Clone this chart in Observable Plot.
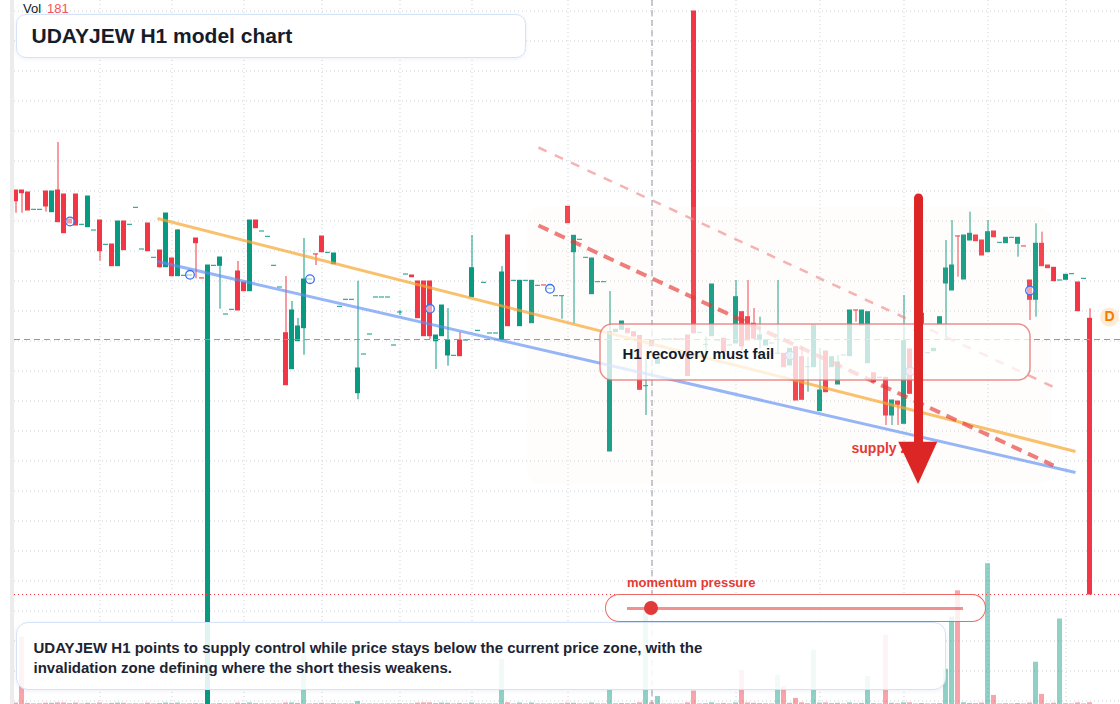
<!DOCTYPE html>
<html><head><meta charset="utf-8">
<script src="https://cdn.jsdelivr.net/npm/d3@7"></script>
<script src="https://cdn.jsdelivr.net/npm/@observablehq/plot@0.6"></script>
<style>
html,body{margin:0;padding:0;background:#fff;}
#wrap{position:relative;width:1120px;height:704px;overflow:hidden;background:#fff;font-family:"Liberation Sans",Arial,sans-serif;}
#strip{position:absolute;left:10px;top:0;width:4px;height:704px;background:#ececec;}
#chart{position:absolute;left:14px;top:0;width:1106px;height:704px;}
#vol{position:absolute;left:23px;top:1px;font-size:13px;color:#131722;line-height:16px;}
#vol span{color:#f7525f;margin-left:6px;}
.card{position:absolute;box-sizing:border-box;border:1.5px solid #d5e2f7;background:rgba(255,255,255,0.9);box-shadow:0 1px 4px rgba(70,110,190,0.10);}
#title{left:16px;top:14px;width:510px;height:44px;border-radius:10px;padding-left:14.5px;font-weight:bold;font-size:21px;line-height:41px;color:#151c2b;}
#caption{left:16px;top:622px;width:930px;height:68px;border-radius:12px;padding:14.5px 0 0 16.5px;font-weight:bold;font-size:15px;line-height:20px;color:#1c2433;background:rgba(255,255,255,0.88);}
#mlabel{position:absolute;left:627px;top:575px;font-size:13px;font-weight:bold;color:#e53935;line-height:16px;}
#pill{position:absolute;left:605px;top:594px;width:381px;height:28px;box-sizing:border-box;border:1px solid rgba(229,57,53,0.75);border-radius:14px;background:rgba(255,255,255,0.82);}
#track{position:absolute;left:627px;top:606.5px;width:336px;height:3px;background:rgba(229,57,53,0.55);}
#knob{position:absolute;width:14px;height:14px;border-radius:50%;background:#e03a3a;top:601px;}
</style></head>
<body>
<div id="wrap">
  <div id="strip"></div>
  <div id="chart"></div>
  <div id="vol"></div>
  <div id="title" class="card"></div>
  <div id="mlabel"></div>
  <div id="pill"></div>
  <div id="track"></div>
  <div id="knob"></div>
  <div id="caption" class="card"></div>
</div>
<script>
// ---------- DATA (prices) ----------
const titleText = "UDAYJEW H1 model chart";
const captionLines = [
  "UDAYJEW H1 points to supply control while price stays below the current price zone, with the",
  "invalidation zone defining where the short thesis weakens."
];
const open = [
81.00,81.00,80.80,79.07,79.07,80.90,78.83,81.00,80.60,78.10,
80.60,77.57,77.33,77.00,78.00,75.57,75.60,73.43,77.90,77.57,
79.27,75.10,77.70,74.27,75.00,73.33,74.20,72.43,72.47,72.50,
76.20,72.21,23.00,73.47,73.47,68.60,69.07,72.90,71.80,70.93,
78.00,76.90,76.37,73.47,71.30,66.73,63.13,65.93,67.23,72.10,
74.61,76.40,74.77,73.63,69.37,70.07,70.07,60.73,64.60,66.60,
70.30,70.30,70.30,65.50,68.80,72.60,72.50,71.90,71.90,71.90,
65.93,66.43,64.50,64.47,66.00,66.00,70.33,66.97,71.77,66.70,
66.70,66.07,76.50,71.97,67.43,71.97,67.73,71.47,71.51,71.17,
70.43,70.43,79.37,74.83,76.07,74.27,70.63,71.83,71.83,54.90,
66.83,67.07,67.17,66.83,66.45,61.43,66.00,63.67,66.10,66.10,
66.11,66.11,66.50,98.90,66.77,65.57,66.43,66.00,66.17,65.50,
65.70,68.83,68.33,67.67,66.07,65.50,65.70,64.67,64.67,63.50,
65.33,64.33,63.33,63.33,58.93,64.90,63.33,61.60,64.50,64.43,
69.01,67.50,63.73,62.73,62.28,62.27,58.50,59.90,57.67,65.10,
67.00,67.67,64.73,64.93,67.60,71.70,71.00,76.41,72.10,76.00,
76.50,76.00,74.83,76.90,75.77,75.73,76.27,75.67,75.41,72.00,
70.07,75.67,73.50,73.27,72.00,72.07,72.63,71.80,72.17,68.17];
const close = [
79.93,80.73,79.00,79.07,79.07,79.40,80.90,77.83,76.73,77.70,
77.50,77.57,80.40,77.00,74.93,75.57,73.43,77.90,75.03,77.57,
79.27,75.10,74.93,74.27,73.33,78.70,72.43,77.00,72.47,72.50,
75.73,72.20,73.50,73.47,74.30,68.60,69.07,69.00,70.93,78.00,
77.23,76.90,76.37,73.47,71.30,61.53,69.00,67.40,72.10,72.10,
74.60,74.83,74.77,74.70,69.37,70.07,70.07,63.20,64.60,66.60,
70.30,70.30,70.30,65.50,68.80,72.60,72.33,68.23,66.43,66.43,
66.50,69.50,66.00,64.47,64.43,66.00,73.23,66.97,71.77,66.70,
66.70,72.80,67.43,71.97,71.97,71.97,71.97,71.47,71.50,71.17,
70.43,70.43,77.73,76.47,76.07,74.27,74.20,71.83,71.83,66.85,
67.07,67.90,66.73,66.40,61.07,61.43,65.43,64.17,66.10,66.10,
66.10,66.10,62.45,66.73,66.77,65.57,71.60,66.00,64.83,65.50,
70.33,65.40,66.00,66.17,66.50,66.00,65.70,64.67,63.33,65.17,
60.00,60.07,63.33,67.50,61.00,60.83,64.33,63.80,64.50,69.00,
69.00,69.00,68.83,61.83,62.27,58.50,60.00,59.57,65.93,60.67,
67.00,68.67,64.73,65.17,68.33,73.20,73.50,76.40,76.50,76.67,
75.93,74.50,76.83,76.33,75.77,76.27,76.27,76.27,75.40,70.07,
75.67,73.43,73.23,71.93,72.00,72.57,72.63,68.93,72.17,40.60];
const high = [
81.00,81.00,80.80,79.07,79.07,80.90,80.90,85.80,80.60,78.10,
80.60,77.57,80.40,77.00,78.00,75.57,75.60,77.90,77.90,77.57,
79.27,75.10,77.70,74.27,75.00,78.70,74.20,77.10,72.47,72.50,
76.20,72.21,73.50,73.47,74.30,68.60,69.07,73.90,71.80,78.00,
78.00,76.90,76.37,73.47,71.30,72.40,69.90,68.20,76.20,72.10,
74.61,76.40,74.77,74.70,69.37,70.07,70.07,71.93,64.60,66.60,
70.30,70.30,70.30,65.50,69.00,72.60,72.50,71.90,71.90,71.90,
66.50,69.50,69.20,64.47,66.80,66.00,76.50,66.97,71.77,66.70,
66.70,73.40,76.50,71.97,71.97,71.97,71.97,71.47,71.51,71.17,
70.43,70.43,79.37,76.47,76.07,74.27,74.20,71.83,71.83,70.90,
67.07,67.90,67.17,66.83,66.45,64.17,66.00,64.17,66.10,66.10,
66.11,66.11,66.50,98.90,66.77,66.33,71.60,66.00,66.17,65.50,
72.00,68.83,72.00,69.20,68.33,66.00,65.70,72.00,64.67,65.17,
65.33,65.33,64.33,67.50,65.20,64.90,64.33,64.50,64.50,69.00,
69.01,69.00,68.83,62.73,62.28,62.27,60.00,59.90,70.50,65.10,
67.00,68.67,64.73,65.17,68.33,76.00,78.00,76.41,76.50,78.83,
76.50,76.00,78.00,76.90,75.77,76.27,76.27,76.27,75.41,72.00,
77.67,76.83,73.50,73.27,72.00,72.57,72.63,71.80,72.17,69.17];
const low = [
78.73,78.73,79.00,79.07,79.07,78.83,78.83,77.83,76.73,77.70,
77.50,77.57,77.33,77.00,73.93,75.57,73.43,73.43,75.03,77.57,
79.27,75.10,74.93,74.27,73.23,73.33,72.43,72.43,72.47,72.50,
72.17,72.20,23.00,73.47,69.13,68.60,69.07,69.00,70.93,70.93,
77.23,76.90,76.37,73.47,71.30,61.53,63.13,65.93,64.53,72.10,
73.50,74.83,74.77,73.63,69.37,70.07,70.07,60.07,64.60,66.60,
70.30,70.30,70.30,65.50,68.50,72.60,72.33,68.23,66.43,66.10,
63.10,66.43,63.43,64.47,64.43,66.00,70.33,66.97,71.77,66.70,
66.70,66.07,67.43,71.97,67.43,71.97,67.73,71.47,71.50,71.17,
70.43,68.13,77.73,67.67,76.07,74.27,70.63,71.83,71.83,54.90,
66.83,67.07,66.73,66.40,61.07,58.50,65.43,63.67,66.10,66.10,
66.10,66.10,62.45,66.73,66.77,64.67,66.43,66.00,64.83,65.50,
65.70,65.00,66.00,66.17,65.17,65.50,65.70,64.67,63.33,63.50,
60.00,60.07,60.83,63.33,58.93,60.83,63.33,61.60,64.50,64.43,
67.83,67.50,63.73,61.83,62.27,57.50,57.50,57.50,57.67,60.67,
67.00,67.67,64.73,64.93,67.60,66.00,71.00,72.33,72.10,76.00,
75.93,74.50,74.83,76.33,75.77,75.73,76.27,74.33,75.40,68.00,
68.33,73.43,73.23,71.93,72.00,72.07,72.63,68.93,72.17,40.60];
const volume = [
140,6700,110,60,70,130,120,160,150,90,
140,60,120,70,150,60,110,140,120,60,
70,60,130,60,100,150,110,140,60,70,
90,60,2600,60,90,60,60,140,100,160,
90,60,60,70,60,150,160,110,4900,60,
80,120,60,90,60,60,60,300,60,60,
60,60,60,60,80,60,70,140,160,160,
90,140,120,60,110,60,150,60,60,60,
60,4470,170,60,150,60,150,60,60,60,
60,80,130,120,60,60,150,60,60,1400,
70,90,80,90,170,9400,181,800,50,50,
50,50,160,1330,60,80,170,60,110,60,
160,3400,150,120,90,70,60,2900,1800,120,
600,170,80,5400,140,160,90,120,60,160,
80,110,2800,90,60,6900,120,80,170,160,
60,100,60,70,90,3500,8700,11300,170,110,
90,140,14000,900,60,80,60,100,60,150,
4200,1000,70,130,8500,80,60,160,60,170];
const gridPrices = [98.95,95.95,92.95,89.95,86.95,83.95,80.95,77.95,74.95,71.95,68.95,65.95,
  62.95,59.95,56.95,53.95,50.95,47.95,44.95,41.95,38.95,35.95,32.95,29.95];
const gridBars = [14,26,38,51,64,76,92,106,120,134,148,162,175];
const markerBars = [9,29,49,69,89,129,149,169];
const markerPrices = [77.9,72.57,72.13,69.17,71.17,64.5,62.9,71.0];
const trendLines = [
  {name:"resistance", i1:23.58, p1:78.2, i2:176.58, p2:54.9},
  {name:"support",    i1:23.58, p1:73.9, i2:176.58, p2:52.8},
  {name:"supply",     i1:87.08, p1:77.5, i2:172.92, p2:53.5},
  {name:"upper",      i1:87.08, p1:85.3, i2:172.75, p2:61.4}
];
const zone = {i1:85.25, i2:172.75, p1:51.6, p2:79.3};
const noteBox = {i1:97.42, i2:169.08, p1:62.0, p2:67.6, ti:101.08, tp:64.6, label:"H1 recovery must fail"};
const arrow = {i:150.42, pTop:80.25, pBase:55.5, headL:147.13, headR:153.63, headBase:55.83, tip:51.6};
const supplyLabel = {i:139.25, p:55.2, text:"supply zone"};
const dMarker = {i:182.25, p:68.35, text:"D"};
const crosshair = {i:106, p:66.1};
const momentumLabel = "momentum pressure";
const momentumValue = 0.07;

// ---------- BUILD ----------
const UP = "#089981", DOWN = "#f23645";
const FONT = "Liberation Sans, Arial, sans-serif";
const priceDomain = [29.6, 100];
const volShare = 0.2;
const bars = d3.range(open.length).map(i => ({
  i, o: open[i], h: high[i], l: low[i], c: close[i], v: volume[i], up: close[i] >= open[i]
}));
const vMax = d3.max(volume);
const vk = (priceDomain[1] - priceDomain[0]) * volShare / vMax;
const VB = priceDomain[0];
const HW = 0.4167;
const ups = bars.filter(d => d.up), downs = bars.filter(d => !d.up);
const tl = n => trendLines.filter(d => d.name === n);

function candleMarks(arr, col) {
  return [
    Plot.ruleX(arr, {x: "i", y1: "l", y2: "h", stroke: col, strokeWidth: 1}),
    Plot.rect(arr, {x1: d => d.i - HW, x2: d => d.i + HW, y1: d => Math.min(d.o, d.c), y2: d => Math.max(d.o, d.c),
      fill: col, insetTop: -0.5, insetBottom: -0.5})
  ];
}

const head = [
  {i: arrow.headL, a: arrow.headBase, b: arrow.headBase},
  {i: arrow.i, a: arrow.headBase, b: arrow.tip},
  {i: arrow.headR, a: arrow.headBase, b: arrow.headBase}
];

const chart = Plot.plot({
  width: 1106, height: 704,
  margin: 0, marginTop: 0, marginRight: 0, marginBottom: 0, marginLeft: 0,
  x: {type: "linear", domain: [-0.25, 184.0833], axis: null},
  y: {type: "linear", domain: priceDomain, axis: null},
  style: {background: "transparent", overflow: "hidden"},
  marks: [
    Plot.ruleY(gridPrices, {stroke: "#cdd1d8", strokeDasharray: "1,3"}),
    Plot.ruleX(gridBars, {stroke: "#cdd1d8", strokeDasharray: "1,3"}),
    Plot.rect(ups, {x1: d => d.i - HW, x2: d => d.i + HW, y1: VB, y2: d => VB + d.v * vk, fill: UP, fillOpacity: 0.45}),
    Plot.rect(downs, {x1: d => d.i - HW, x2: d => d.i + HW, y1: VB, y2: d => VB + d.v * vk, fill: DOWN, fillOpacity: 0.45}),
    ...candleMarks(ups, UP),
    ...candleMarks(downs, DOWN),
    Plot.rect([zone], {x1: "i1", x2: "i2", y1: "p1", y2: "p2", fill: "#fbe6d2", fillOpacity: 0.09, rx: 14}),
    Plot.link(tl("upper"), {x1: "i1", y1: "p1", x2: "i2", y2: "p2", stroke: "#ef8a8a", strokeOpacity: 0.65, strokeWidth: 2.5, strokeDasharray: "9,9"}),
    Plot.link(tl("resistance"), {x1: "i1", y1: "p1", x2: "i2", y2: "p2", stroke: "#f7a631", strokeOpacity: 0.7, strokeWidth: 3}),
    Plot.link(tl("support"), {x1: "i1", y1: "p1", x2: "i2", y2: "p2", stroke: "#5d8ff2", strokeOpacity: 0.65, strokeWidth: 3}),
    Plot.link(tl("supply"), {x1: "i1", y1: "p1", x2: "i2", y2: "p2", stroke: "#e53935", strokeOpacity: 0.65, strokeWidth: 4, strokeDasharray: "11,7"}),
    Plot.dot(markerBars, {x: d => d, y: (d, k) => markerPrices[k], r: 4.3, stroke: "#3d6ef0", strokeWidth: 1.3, fill: "#ffffff", fillOpacity: 0.5}),
    Plot.ruleX([crosshair.i], {stroke: "#9598a1", strokeDasharray: "6,4"}),
    Plot.ruleY([crosshair.p], {stroke: "#9598a1", strokeDasharray: "6,4"}),
    Plot.ruleY([close[close.length - 1]], {stroke: DOWN, strokeDasharray: "1,3"}),
    Plot.rect([noteBox], {x1: "i1", x2: "i2", y1: "p1", y2: "p2", fill: "#ffffff", fillOpacity: 0.75, stroke: "#e57373", strokeOpacity: 0.8, strokeWidth: 1.5, rx: 12}),
    Plot.text([noteBox], {x: "ti", y: "tp", text: "label", textAnchor: "start", fontSize: 15, fontWeight: "bold", fill: "#141c2b", fontFamily: FONT}),
    Plot.text([supplyLabel], {x: "i", y: "p", text: "text", textAnchor: "start", fontSize: 14, fontWeight: "bold", fill: "#e53935", fontFamily: FONT}),
    Plot.link([arrow], {x1: "i", x2: "i", y1: "pTop", y2: "pBase", stroke: "#dc2626", strokeWidth: 9, strokeLinecap: "round"}),
    Plot.areaY(head, {x: "i", y1: "a", y2: "b", fill: "#dc2626"}),
    Plot.dot([dMarker], {x: "i", y: "p", r: 9.5, fill: "#fdebd5", stroke: "none"}),
    Plot.text([dMarker], {x: "i", y: "p", text: "text", fontSize: 14, fontWeight: "bold", fill: "#f57c00", fontFamily: FONT})
  ]
});
document.getElementById("chart").appendChild(chart);

document.getElementById("vol").innerHTML = "Vol<span>" + volume[crosshair.i] + "</span>";
document.getElementById("title").textContent = titleText;
document.getElementById("caption").innerHTML = captionLines.join("<br>");
document.getElementById("mlabel").textContent = momentumLabel;
document.getElementById("knob").style.left = (627 + momentumValue * 336 - 7) + "px";
</script>
</body></html>
